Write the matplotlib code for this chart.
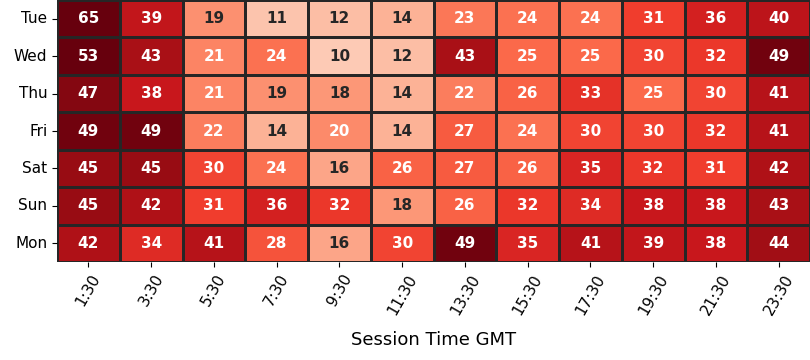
import numpy as np
import pandas as pd
import matplotlib
matplotlib.use("Agg")
import matplotlib.pyplot as plt
import seaborn as sns

days = ["Tue", "Wed", "Thu", "Fri", "Sat", "Sun", "Mon"]
times = ["1:30", "3:30", "5:30", "7:30", "9:30", "11:30",
         "13:30", "15:30", "17:30", "19:30", "21:30", "23:30"]

tue = [65, 39, 19, 11, 12, 14, 23, 24, 24, 31, 36, 40]
wed = [53, 43, 21, 24, 10, 12, 43, 25, 25, 30, 32, 49]
thu = [47, 38, 21, 19, 18, 14, 22, 26, 33, 25, 30, 41]
fri = [49, 49, 22, 14, 20, 14, 27, 24, 30, 30, 32, 41]
sat = [45, 45, 30, 24, 16, 26, 27, 26, 35, 32, 31, 42]
sun = [45, 42, 31, 36, 32, 18, 26, 32, 34, 38, 38, 43]
mon = [42, 34, 41, 28, 16, 30, 49, 35, 41, 39, 38, 44]

df = pd.DataFrame([tue, wed, thu, fri, sat, sun, mon], index=days, columns=times)

fig = plt.figure(figsize=(8.1, 3.6), dpi=100)
ax = fig.add_axes([0.0704, 0.272, 0.9296, 0.728])
sns.heatmap(df, ax=ax, cmap="Reds", vmin=0, vmax=50, annot=True, fmt="d",
            annot_kws={"fontsize": 11, "fontweight": "bold"},
            linewidths=1, linecolor="#262626", cbar=False)
ax.set_xlabel("Session Time GMT", fontsize=13, labelpad=10)
ax.set_ylabel("")
ax.tick_params(axis="x", labelsize=11, rotation=60)
ax.tick_params(axis="y", labelsize=11, rotation=0)
fig.savefig("out.png", dpi=100)
